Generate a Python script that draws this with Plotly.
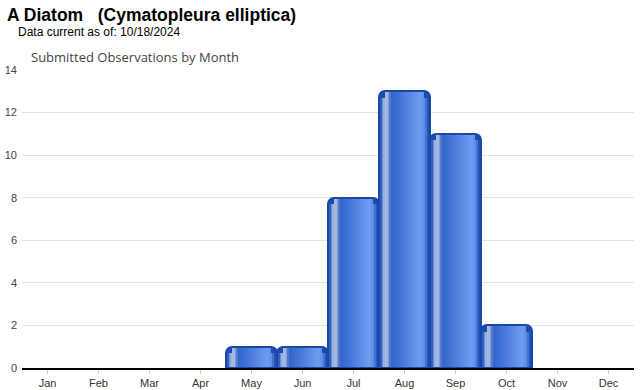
import plotly.graph_objects as go

months = ["Jan", "Feb", "Mar", "Apr", "May", "Jun", "Jul", "Aug", "Sep", "Oct", "Nov", "Dec"]
observations = [0, 0, 0, 0, 1, 1, 8, 13, 11, 2, 0, 0]
y_ticks = [0, 2, 4, 6, 8, 10, 12, 14]

W, H = 640, 390
ML, MR, MT, MB = 22, 6, 70, 22

# gradient profile across each bar (position 0..1 -> colour)
stops = [
    (0.00, (0x1d, 0x4c, 0xae)),
    (0.04, (0x2a, 0x58, 0xbe)),
    (0.09, (0x8e, 0xa8, 0xda)),
    (0.12, (0xa8, 0xbc, 0xe2)),
    (0.17, (0xa0, 0xb6, 0xe0)),
    (0.24, (0x34, 0x64, 0xc8)),
    (0.34, (0x3a, 0x6c, 0xd2)),
    (0.82, (0x6e, 0x9e, 0xf0)),
    (0.90, (0x5a, 0x8c, 0xe6)),
    (0.96, (0x24, 0x54, 0xbc)),
    (1.00, (0x1d, 0x4c, 0xae)),
]


def colour_at(t):
    for (t0, c0), (t1, c1) in zip(stops[:-1], stops[1:]):
        if t0 <= t <= t1:
            f = (t - t0) / (t1 - t0) if t1 > t0 else 0
            c = [round(a + (b - a) * f) for a, b in zip(c0, c1)]
            return "rgb(%d,%d,%d)" % tuple(c)
    return "rgb(29,76,174)"


fig = go.Figure()

# base bar with rounded top
fig.add_trace(go.Bar(
    x=months, y=observations, width=1.0,
    marker=dict(color="#1d4cae", cornerradius=6, line=dict(width=0)),
    hoverinfo="skip", showlegend=False,
))

N = 34
cut = 0.1  # near the edges the strips stop short of the rounded corners
for i in range(N):
    t = (i + 0.5) / N
    pos = i / N
    edge = pos < cut or pos + 1 / N > 1 - cut
    ys = [max(v - 0.3, 0) if edge else v for v in observations]
    fig.add_trace(go.Bar(
        x=months, y=ys, width=1.0 / N + 0.004, offset=-0.5 + pos,
        marker=dict(color=colour_at(t), line=dict(width=0)),
        hoverinfo="skip", showlegend=False,
    ))

# outline on top
fig.add_trace(go.Bar(
    x=months, y=[v if v > 0 else None for v in observations], width=1.0,
    marker=dict(color="rgba(0,0,0,0)", cornerradius=6,
                line=dict(width=2, color="#1a48a8")),
    hoverinfo="skip", showlegend=False,
))

pw = W - ML - MR
ph = H - MT - MB


def px(x):
    return (x - ML) / pw


def py(y):
    return 1 - (y - MT) / ph


fig.update_layout(
    width=W, height=H,
    margin=dict(l=ML, r=MR, t=MT, b=MB),
    paper_bgcolor="white", plot_bgcolor="white",
    barmode="overlay", bargap=0,
    font=dict(family="Arial, Liberation Sans, sans-serif", size=11, color="#333"),
    xaxis=dict(
        type="category", categoryorder="array", categoryarray=months,
        range=[-0.5, 11.5], showgrid=False, automargin=False,
        showline=True, linecolor="black", linewidth=2,
        ticks="outside", ticklen=4, tickcolor="#cccccc", tickwidth=1,
        tickfont=dict(size=11, color="#333"),
        fixedrange=True,
    ),
    yaxis=dict(
        range=[0, 14], tickvals=y_ticks, showgrid=True, gridcolor="#e2e2e2",
        gridwidth=1, zeroline=False, showline=False, automargin=False,
        tickfont=dict(size=11, color="#444"), ticks="", ticklabelstandoff=4,
        fixedrange=True,
    ),
    annotations=[
        dict(text="<b>A Diatom\u00a0\u00a0\u00a0(Cymatopleura elliptica)</b>",
             xref="paper", yref="paper", x=px(5), y=py(15), xanchor="left", yanchor="middle",
             showarrow=False, font=dict(size=17.5, color="black",
                                        family="Arial, Liberation Sans, sans-serif")),
        dict(text="Data current as of: 10/18/2024",
             xref="paper", yref="paper", x=px(16), y=py(32), xanchor="left", yanchor="middle",
             showarrow=False, font=dict(size=12, color="black",
                                        family="Arial, Liberation Sans, sans-serif")),
        dict(text="Submitted Observations by Month",
             xref="paper", yref="paper", x=px(29), y=py(57), xanchor="left", yanchor="middle",
             showarrow=False, font=dict(size=13, color="#444",
                                        family="Open Sans, DejaVu Sans, sans-serif")),
    ],
)

fig.write_html(
    "out.html",
    config={"displayModeBar": False},
    post_script="document.body.style.margin='0';document.body.style.overflow='hidden';",
)
